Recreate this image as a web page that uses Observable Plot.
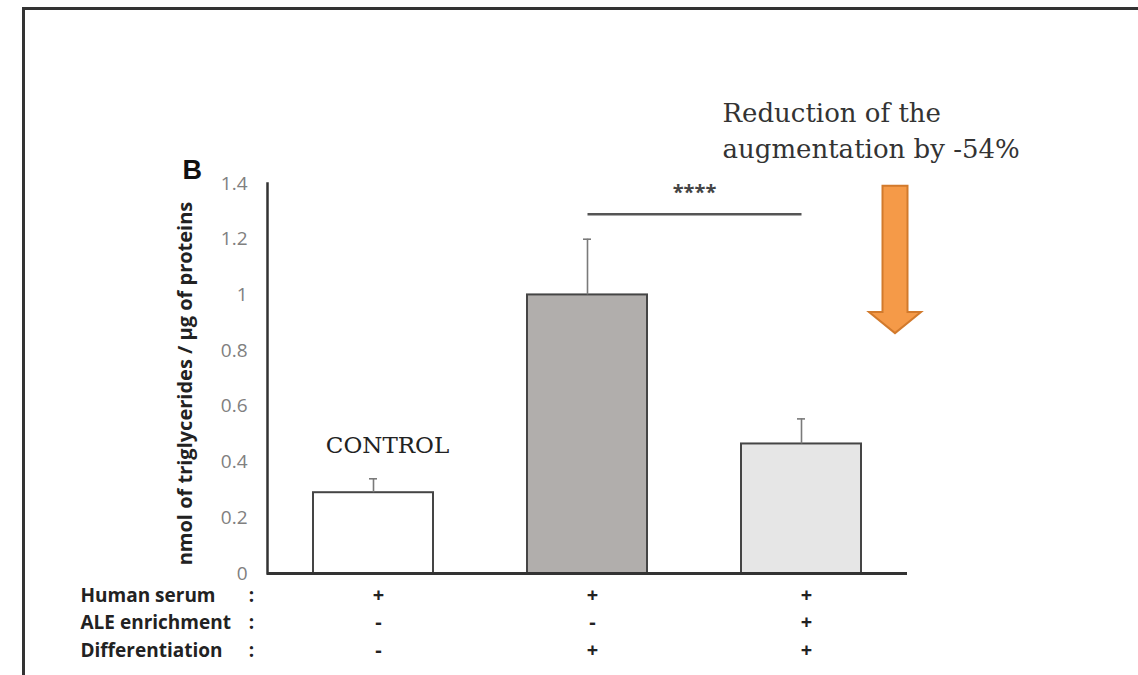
<!DOCTYPE html>
<html><head><meta charset="utf-8">
<script src="https://cdn.jsdelivr.net/npm/d3@7"></script>
<script src="https://cdn.jsdelivr.net/npm/@observablehq/plot@0.6"></script>
<style>
html,body{margin:0;padding:0;background:#fff;}
#wrap{position:relative;width:1138px;height:675px;overflow:hidden;}
#frame{position:absolute;left:22px;top:7px;width:1200px;height:700px;border-top:3px solid #333;border-left:3px solid #333;pointer-events:none;}
</style></head><body>
<div id="wrap"><div id="chart"></div><div id="frame"></div></div>
<script>
// ---- data ----
const categories = ["Control", "Differentiated", "Differentiated + ALE"];
const means = [0.29, 1.0, 0.465];
const errors = [0.05, 0.2, 0.09];
const fills = ["#ffffff", "#b1aeac", "#e6e6e6"];
const yTicks = [0, 0.2, 0.4, 0.6, 0.8, 1, 1.2, 1.4];
const rowLabels = ["Human serum", "ALE enrichment", "Differentiation"];
const humanSerum = ["+", "+", "+"];
const aleEnrichment = ["-", "-", "+"];
const differentiation = ["-", "+", "+"];
const yLabel = "nmol of triglycerides / µg of proteins";
const panelLabel = "B";
const controlLabel = "CONTROL";
const sigPair = ["Differentiated", "Differentiated + ALE"];
const sigLevel = 1.29;
const sigText = "****";
const annotationLines = ["Reduction of the", "augmentation by -54%"];
const arrowLevels = [1.39, 0.937, 0.861]; // shaft top, head base, tip (y units)

// ---- tables built from the arrays ----
const bars = categories.map((c, i) => ({category: c, mean: means[i], err: errors[i], fill: fills[i]}));
const rowMarks = [humanSerum, aleEnrichment, differentiation];
const rowDy = [28, 55, 83];

const arrowMark = (index, scales) => {
  const {x, y} = scales;
  const cx = x(categories[2]) + x.bandwidth() + 34;
  const top = y(arrowLevels[0]), base = y(arrowLevels[1]), tip = y(arrowLevels[2]);
  const sw = 12.5, hw = 26;
  return d3.create("svg:path")
    .attr("d", `M${cx - sw},${top}H${cx + sw}V${base}H${cx + hw}L${cx},${tip}L${cx - hw},${base}H${cx - sw}Z`)
    .attr("fill", "#f59a48").attr("stroke", "#d27a2c").attr("stroke-width", 2)
    .node();
};

const rowTextMarks = rowLabels.flatMap((label, i) => [
  Plot.text([label], {frameAnchor: "bottom-left", dx: -187, dy: rowDy[i], textAnchor: "start",
    fontSize: 19, fontWeight: "bold", fill: "#222"}),
  Plot.text([":"], {frameAnchor: "bottom-left", dx: -16, dy: rowDy[i], textAnchor: "middle", fontSize: 19, fontWeight: "bold", fill: "#222"}),
  Plot.text(categories, {x: d => d, text: (d, j) => rowMarks[i][j], frameAnchor: "bottom", dx: 5, dy: rowDy[i],
    fontSize: 20, fontWeight: "bold", fill: "#222"})
]);

const chart = Plot.plot({
  width: 1138, height: 675,
  marginTop: 183, marginBottom: 102, marginLeft: 267, marginRight: 231,
  style: {fontFamily: "'Open Sans', sans-serif", background: "transparent", overflow: "visible"},
  x: {domain: categories, paddingInner: 0.44, paddingOuter: 0.215, axis: null},
  y: {domain: [0, 1.4]},
  color: {type: "identity"},
  marks: [
    Plot.axisY({ticks: yTicks, tickFormat: d => String(d), tickSize: 0, tickPadding: 20, fontSize: 19, fill: "#808080", label: null}),
    Plot.barY(bars, {x: "category", y: "mean", fill: "fill", stroke: "#454545", strokeWidth: 2}),
    Plot.ruleX(bars, {x: "category", y1: "mean", y2: d => d.mean + d.err, stroke: "#7a7a7a", strokeWidth: 1.6}),
    Plot.tickY(bars, {x: "category", y: d => d.mean + d.err, stroke: "#7a7a7a", strokeWidth: 1.6, insetLeft: 56, insetRight: 56}),
    Plot.frame({anchor: "left", stroke: "#333", strokeWidth: 2.5}),
    Plot.ruleY([0], {stroke: "#333", strokeWidth: 3}),
    Plot.link([{a: sigPair[0], b: sigPair[1], y: sigLevel}], {x1: "a", x2: "b", y1: "y", y2: "y", stroke: "#555", strokeWidth: 2.5}),
    Plot.text([{a: sigPair[0], y: sigLevel, t: sigText}], {x: "a", y: "y", text: "t", dx: 107, dy: -22, fontSize: 20, fontWeight: "bold", fill: "#444"}),
    Plot.text([{c: categories[0], y: 0.434, t: controlLabel}], {x: "c", y: "y", text: "t", dx: 14, lineAnchor: "bottom",
      fontFamily: "'DejaVu Serif', serif", fontSize: 23, fill: "#222"}),
    Plot.text([{c: categories[2], y: 1.4, t: annotationLines.join("\n")}], {x: "c", y: "y", text: "t", dx: -79, dy: -87,
      textAnchor: "start", lineAnchor: "top", lineHeight: 1.385, fontFamily: "'DejaVu Serif', serif", fontSize: 26, fill: "#333"}),
    Plot.text([panelLabel], {frameAnchor: "top-left", dx: -85, dy: -5, textAnchor: "start", lineAnchor: "bottom",
      fontFamily: "'Liberation Sans', Arial, sans-serif", fontSize: 27, fontWeight: "bold", fill: "#111"}),
    Plot.text([yLabel], {frameAnchor: "left", textAnchor: "middle", rotate: -90, dx: -82, dy: 5, fontSize: 20, fontWeight: "bold", fill: "#222"}),
    arrowMark,
    ...rowTextMarks
  ]
});
document.getElementById("chart").appendChild(chart);
</script>
</body></html>
